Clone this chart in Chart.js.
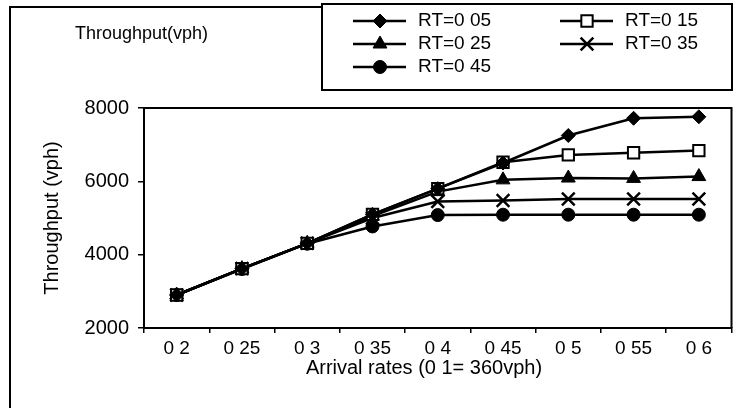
<!DOCTYPE html>
<html><head><meta charset="utf-8">
<script src="https://cdn.jsdelivr.net/npm/chart.js@4.4.0/dist/chart.umd.min.js"></script>
<style>html,body{margin:0;padding:0;background:#fff}canvas{display:block}</style>
</head><body>
<canvas id="c" width="743" height="408"></canvas>
<script>
const categories = ['0 2','0 25','0 3','0 35','0 4','0 45','0 5','0 55','0 6'];
const rt005 = [2900, 3620, 4310, 5100, 5800, 6500, 7250, 7720, 7760];
const rt015 = [2900, 3620, 4310, 5100, 5800, 6520, 6720, 6780, 6840];
const rt025 = [2900, 3620, 4310, 5050, 5720, 6040, 6090, 6080, 6130];
const rt035 = [2900, 3620, 4310, 5000, 5450, 5480, 5520, 5520, 5520];
const rt045 = [2900, 3610, 4300, 4770, 5080, 5090, 5090, 5090, 5090];
const seriesLabels = ['RT=0 05','RT=0 15','RT=0 25','RT=0 35','RT=0 45'];
const yTicks = [2000, 4000, 6000, 8000];
const chartTitle = 'Throughput(vph)';
const xTitle = 'Arrival rates (0 1= 360vph)';
const yTitle = 'Throughput (vph)';

const FONT = "'Liberation Sans', Arial, Helvetica, sans-serif";
Chart.defaults.font.family = FONT;
Chart.defaults.color = '#000';

const marks = [
  {pointStyle:'rectRot', radius:7, bg:'#000', bw:1},
  {pointStyle:'rect', radius:8, bg:'#fff', bw:2},
  {pointStyle:'triangle', radius:8, bg:'#000', bw:1},
  {pointStyle:'crossRot', radius:9, bg:'#000', bw:2.5},
  {pointStyle:'circle', radius:6.5, bg:'#000', bw:1}
];
const series = [rt005, rt015, rt025, rt035, rt045];

const decor = {
  id: 'decor',
  afterDraw(chart) {
    const ctx = chart.ctx, a = chart.chartArea;
    ctx.save();
    ctx.strokeStyle = '#000'; ctx.lineWidth = 2;
    ctx.beginPath(); ctx.moveTo(a.left, a.top); ctx.lineTo(a.right, a.top); ctx.lineTo(a.right, a.bottom); ctx.stroke();
    ctx.beginPath(); ctx.moveTo(10, 408); ctx.lineTo(10, 7); ctx.lineTo(322, 7); ctx.stroke();
    ctx.strokeRect(322, 4, 410, 86);
    ctx.fillStyle = '#000';
    ctx.textBaseline = 'middle'; ctx.textAlign = 'left';
    ctx.font = '18px ' + FONT;
    ctx.fillText(chartTitle, 75, 34);
    ctx.font = '20px ' + FONT;
    ctx.textAlign = 'center';
    ctx.fillText(xTitle, 424, 368);
    ctx.textAlign = 'left';
    ctx.font = '19px ' + FONT;
    chart.data.datasets.forEach((ds, i) => {
      const col = i % 2, row = Math.floor(i / 2);
      const x0 = 353 + col * 207, y = 21 + row * 23;
      ctx.strokeStyle = '#000'; ctx.lineWidth = 2.5;
      ctx.beginPath(); ctx.moveTo(x0, y); ctx.lineTo(x0 + 53, y); ctx.stroke();
      const m = marks[i];
      ctx.fillStyle = m.bg; ctx.lineWidth = m.bw;
      Chart.helpers.drawPoint(ctx, {pointStyle: m.pointStyle, radius: m.radius, rotation: 0, borderWidth: m.bw}, x0 + 27, y);
      ctx.fillStyle = '#000';
      ctx.fillText(ds.label, x0 + 65, y);
    });
    ctx.restore();
  }
};

new Chart(document.getElementById('c'), {
  type: 'line',
  data: {
    labels: categories,
    datasets: series.map((d, i) => ({
      label: seriesLabels[i],
      data: d,
      borderColor: '#000',
      borderWidth: 2.5,
      pointStyle: marks[i].pointStyle,
      pointRadius: marks[i].radius,
      pointBackgroundColor: marks[i].bg,
      pointBorderColor: '#000',
      pointBorderWidth: marks[i].bw,
      tension: 0,
      fill: false
    }))
  },
  options: {
    responsive: false,
    animation: false,
    devicePixelRatio: 1,
    layout: {padding: {top: 108, right: 10, left: 0, bottom: 0}},
    plugins: {legend: {display: false}, tooltip: {enabled: false}},
    scales: {
      x: {
        type: 'category',
        offset: true,
        grid: {offset: true, drawOnChartArea: false, tickLength: 5, color: '#000', lineWidth: 1.5},
        border: {display: true, color: '#000', width: 2},
        ticks: {font: {size: 19}, padding: 4, maxRotation: 0, autoSkip: false, color: '#000'},
        afterFit(s) { s.height = 80; }
      },
      y: {
        min: 2000, max: 8000,
        afterBuildTicks(s) { s.ticks = yTicks.map(v => ({value: v})); },
        grid: {drawOnChartArea: false, tickLength: 6, color: '#000', lineWidth: 1.5},
        border: {display: true, color: '#000', width: 2},
        ticks: {font: {size: 20}, padding: 9, color: '#000', callback: v => String(v)},
        title: {display: true, text: yTitle, font: {size: 20}, padding: {top: 40, bottom: 0}, color: '#000'},
        afterFit(s) { s.width = 144; }
      }
    }
  },
  plugins: [decor]
});
</script>
</body></html>
